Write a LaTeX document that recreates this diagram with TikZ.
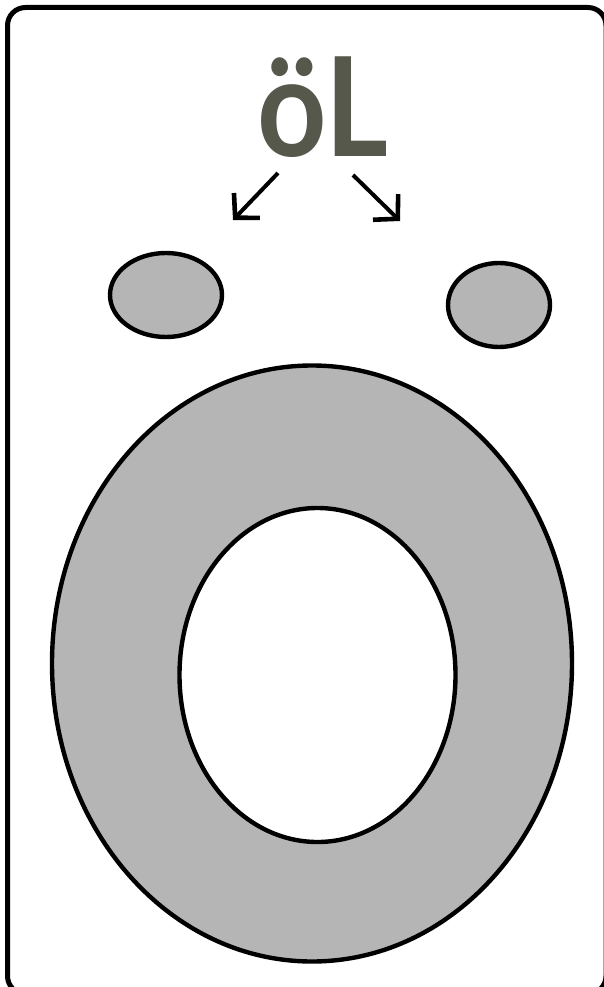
\documentclass[tikz,border=0pt]{standalone}
\usepackage{fontspec}
\setmainfont{Lato}
\usetikzlibrary{arrows.meta}
\definecolor{fillgray}{HTML}{B5B5B5}
\definecolor{inkgreen}{HTML}{55584A}
\tikzset{
  outline/.style={draw=black,line width=4.4pt},
  hole/.style={outline,fill=white},
  barbarrow/.style={draw=black,line width=4pt,-{Straight Barb[length=17pt,width=36pt,line width=4.6pt]}},
  hand/.style={text=inkgreen,inner sep=0pt,font=\fontsize{121}{121}\selectfont\bfseries,yscale=1.14,transform shape}
}
\begin{document}
\begin{tikzpicture}[x=1pt,y=-1pt]
\useasboundingbox (0,0) rectangle (604,987);
\clip (0,0) rectangle (604,987);
\fill[white] (0,0) rectangle (604,987);
\draw[outline,line width=5pt,rounded corners=18pt] (7.5,7.5) rectangle (606,994);
\node[hand,anchor=center] (label) at (323,107) {öL};
\coordinate (leftstart) at (278,173);
\coordinate (lefttip) at (233,220);
\coordinate (rightstart) at (353,175);
\coordinate (righttip) at (400,221);
\draw[barbarrow] (leftstart) -- (lefttip);
\draw[barbarrow] (rightstart) -- (righttip);
\path[outline,fill=fillgray] (166,295) ellipse [x radius=56,y radius=42];
\path[outline,fill=fillgray] (499,305) ellipse [x radius=51,y radius=42];
\path[outline,fill=fillgray] (312,663.5) ellipse [x radius=260,y radius=298];
\path[hole] (317.5,675) ellipse [x radius=138,y radius=167];
\end{tikzpicture}
\end{document}
